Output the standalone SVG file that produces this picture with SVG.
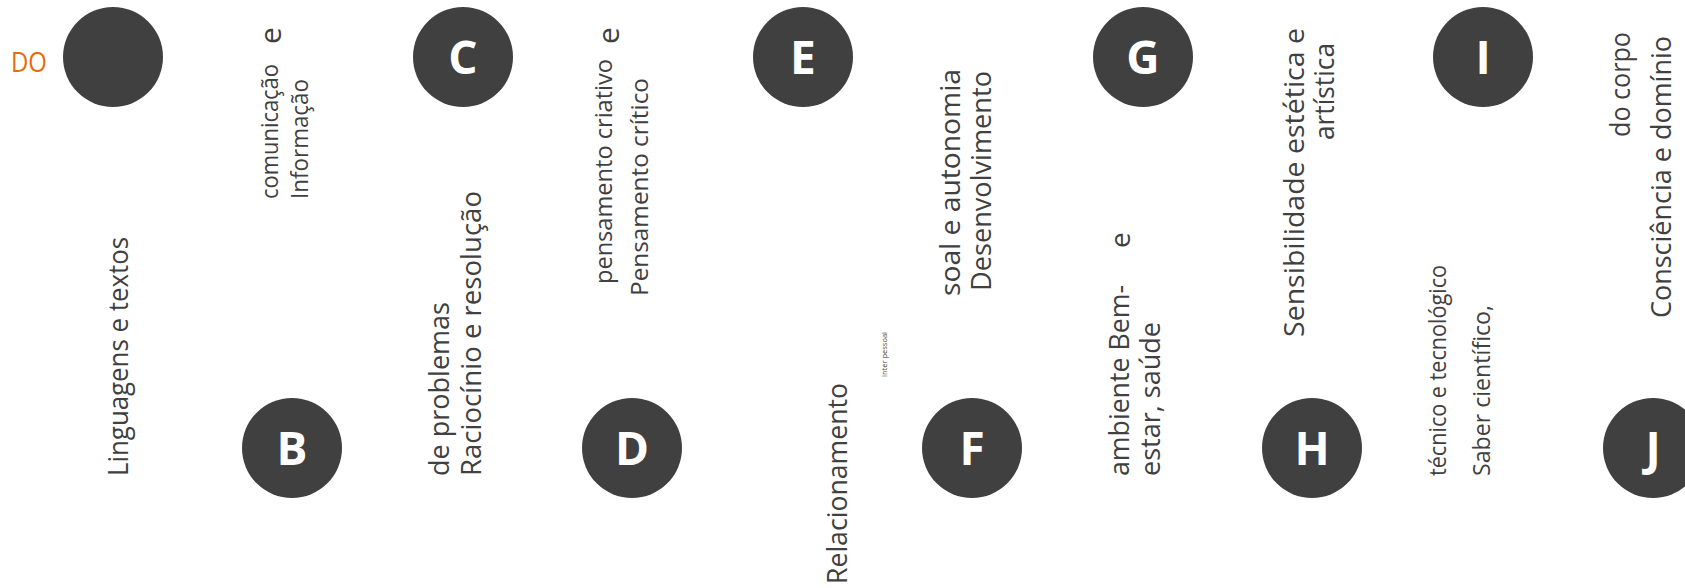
<svg xmlns="http://www.w3.org/2000/svg" width="1685" height="588" viewBox="0 0 1685 588">
<style>
.c{fill:#404040}
.l{font-family:"Open Sans","DejaVu Sans",sans-serif;font-weight:700;font-size:46px;fill:#ffffff;text-anchor:middle}
.t{font-family:"Open Sans","DejaVu Sans",sans-serif;fill:#404040}
</style>
<rect width="1685" height="588" fill="#ffffff"/>
<g id="connectors"/>
<g id="title"><text x="11" y="72" font-family="Open Sans, DejaVu Sans, sans-serif" font-size="28" fill="#E46C0A" textLength="36" lengthAdjust="spacingAndGlyphs">DO</text></g>
<g id="node-A"><circle class="c" cx="113" cy="57" r="50"/></g>
<g id="node-B"><circle class="c" cx="292" cy="448" r="50"/><text class="l" x="292" y="465">B</text></g>
<g id="node-C"><circle class="c" cx="463" cy="57" r="50"/><text class="l" x="463" y="74">C</text></g>
<g id="node-D"><circle class="c" cx="632" cy="448" r="50"/><text class="l" x="632" y="465">D</text></g>
<g id="node-E"><circle class="c" cx="803" cy="57" r="50"/><text class="l" x="803" y="74">E</text></g>
<g id="node-F"><circle class="c" cx="972" cy="448" r="50"/><text class="l" x="972" y="465">F</text></g>
<g id="node-G"><circle class="c" cx="1143" cy="57" r="50"/><text class="l" x="1143" y="74">G</text></g>
<g id="node-H"><circle class="c" cx="1312" cy="448" r="50"/><text class="l" x="1312" y="465">H</text></g>
<g id="node-I"><circle class="c" cx="1483" cy="57" r="50"/><text class="l" x="1483" y="74">I</text></g>
<g id="node-J"><circle class="c" cx="1653" cy="448" r="50"/><text class="l" x="1653" y="465">J</text></g>

<g id="label-A"><text class="t" font-size="28" transform="translate(128,476) rotate(-90)" textLength="239" lengthAdjust="spacingAndGlyphs">Linguagens e textos</text></g>
<g id="label-B">
<text class="t" font-size="24" transform="translate(278,199) rotate(-90)" textLength="135" lengthAdjust="spacingAndGlyphs">comunicação</text>
<text class="t" font-size="30" transform="translate(281,44) rotate(-90)">e</text>
<text class="t" font-size="24" transform="translate(308,199) rotate(-90)" textLength="120" lengthAdjust="spacingAndGlyphs">Informação</text>
</g>
<g id="label-C">
<text class="t" font-size="28" transform="translate(449,476) rotate(-90)" textLength="174" lengthAdjust="spacingAndGlyphs">de problemas</text>
<text class="t" font-size="28" transform="translate(481,476) rotate(-90)" textLength="285" lengthAdjust="spacingAndGlyphs">Raciocínio e resolução</text>
</g>
<g id="label-D">
<text class="t" font-size="24" transform="translate(612,284) rotate(-90)" textLength="225" lengthAdjust="spacingAndGlyphs">pensamento criativo</text>
<text class="t" font-size="30" transform="translate(619,44) rotate(-90)">e</text>
<text class="t" font-size="24" transform="translate(648,296) rotate(-90)" textLength="218" lengthAdjust="spacingAndGlyphs">Pensamento crítico</text>
</g>
<g id="label-E">
<text class="t" font-size="27" transform="translate(847,584) rotate(-90)" textLength="201" lengthAdjust="spacingAndGlyphs">Relacionamento</text>
<text class="t" font-size="7" transform="translate(887,377) rotate(-90)" textLength="45" lengthAdjust="spacingAndGlyphs">inter pessoal</text>
</g>
<g id="label-F">
<text class="t" font-size="28" transform="translate(960,296) rotate(-90)" textLength="227" lengthAdjust="spacingAndGlyphs">soal e autonomia</text>
<text class="t" font-size="28" transform="translate(991,291) rotate(-90)" textLength="220" lengthAdjust="spacingAndGlyphs">Desenvolvimento</text>
</g>
<g id="label-G">
<text class="t" font-size="28" transform="translate(1129,476) rotate(-90)" textLength="191" lengthAdjust="spacingAndGlyphs">ambiente Bem-</text>
<text class="t" font-size="28" transform="translate(1130,248) rotate(-90)">e</text>
<text class="t" font-size="28" transform="translate(1160,476) rotate(-90)" textLength="154" lengthAdjust="spacingAndGlyphs">estar, saúde</text>
</g>
<g id="label-H">
<text class="t" font-size="28" transform="translate(1304,337) rotate(-90)" textLength="309" lengthAdjust="spacingAndGlyphs">Sensibilidade estética e</text>
<text class="t" font-size="28" transform="translate(1334,140) rotate(-90)" textLength="97" lengthAdjust="spacingAndGlyphs">artística</text>
</g>
<g id="label-I">
<text class="t" font-size="23" transform="translate(1446,476) rotate(-90)" textLength="211" lengthAdjust="spacingAndGlyphs">técnico e tecnológico</text>
<text class="t" font-size="23" transform="translate(1490,476) rotate(-90)" textLength="171" lengthAdjust="spacingAndGlyphs">Saber científico,</text>
</g>
<g id="label-J">
<text class="t" font-size="28" transform="translate(1630,137) rotate(-90)" textLength="105" lengthAdjust="spacingAndGlyphs">do corpo</text>
<text class="t" font-size="28" transform="translate(1671,318) rotate(-90)" textLength="282" lengthAdjust="spacingAndGlyphs">Consciência e domínio</text>
</g>
</svg>
